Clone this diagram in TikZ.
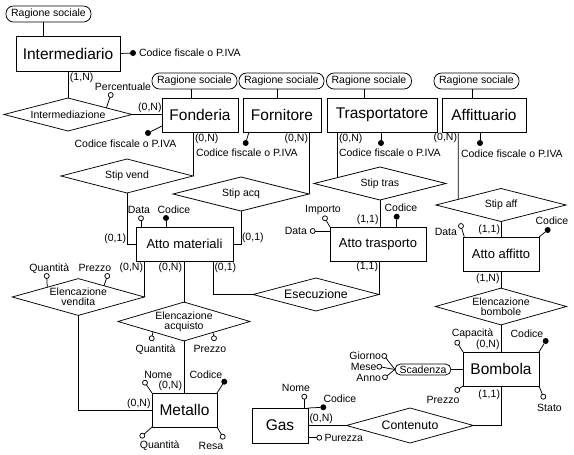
\documentclass[tikz,border=0pt]{standalone}
\usepackage{fontspec}
\setmainfont{Liberation Sans}
\usetikzlibrary{shapes.geometric,calc}
\tikzset{
 ent/.style={draw, rectangle, inner sep=0, outer sep=0, font=\fontsize{15.5}{17}\selectfont},
 atto/.style={ent, font=\fontsize{13}{15}\selectfont},
 rel/.style={draw, diamond, aspect=3, inner sep=0, outer sep=0, align=center, font=\fontsize{10.5}{10}\selectfont},
 relbig/.style={rel, font=\fontsize{12.3}{14}\selectfont},
 pill/.style={draw, rectangle, rounded corners=7.5pt, minimum width=85pt, minimum height=16pt, inner sep=0, outer sep=0, font=\fontsize{10.5}{12}\selectfont},
 att/.style={circle, draw, fill=white, inner sep=0, outer sep=0, minimum size=5pt},
 key/.style={circle, fill=black, inner sep=0, outer sep=0, minimum size=6pt},
 lbl/.style={inner sep=0, outer sep=0, font=\fontsize{10.5}{12}\selectfont}
}
\begin{document}
\begin{tikzpicture}[x=1pt,y=-1pt,line width=0.75pt]
\useasboundingbox (0,0) rectangle (574,455);
% entities
\node[ent, minimum width=104pt, minimum height=35pt] (inter) at (68,53.5) {Intermediario};
\node[ent, minimum width=76pt, minimum height=34pt] (fond) at (200,115) {Fonderia};
\node[ent, minimum width=78pt, minimum height=34pt] (forn) at (282,115) {Fornitore};
\node[ent, minimum width=110pt, minimum height=34pt] (trasp) at (382,115) {Trasportatore};
\node[ent, minimum width=84pt, minimum height=34pt] (affit) at (484,115) {Affittuario};
\node[atto, minimum width=97pt, minimum height=34pt] (attomat) at (184.5,244) {Atto materiali};
\node[atto, minimum width=96pt, minimum height=34pt] (attotr) at (378,244) {Atto trasporto};
\node[atto, minimum width=76pt, minimum height=34pt] (attoaff) at (501,254) {Atto affitto};
\node[ent, minimum width=65pt, minimum height=34pt] (metallo) at (184.5,410) {Metallo};
\node[ent, minimum width=56pt, minimum height=35pt] (gas) at (280,425.5) {Gas};
\node[ent, minimum width=76pt, minimum height=34pt] (bombola) at (501,369) {Bombola};
% relationships
\node[rel, minimum width=128pt, minimum height=33pt] (intermed) at (68,114.5) {Intermediazione};
\node[rel, minimum width=132pt, minimum height=34pt] (stipvend) at (127,176) {Stip vend};
\node[rel, minimum width=136pt, minimum height=34pt] (stipacq) at (241,194) {Stip acq};
\node[rel, minimum width=132pt, minimum height=33pt] (stiptras) at (380,183.5) {Stip tras};
\node[rel, minimum width=130pt, minimum height=33pt] (stipaff) at (501,205) {Stip aff};
\node[relbig, minimum width=126pt, minimum height=33pt] (esec) at (316,294.5) {Esecuzione};
\node[rel, minimum width=132pt, minimum height=34pt] (elvend) at (78.3,297) {Elencazione\\vendita};
\node[rel, minimum width=132pt, minimum height=33pt] (elacq) at (184,321.5) {Elencazione\\acquisto};
\node[rel, minimum width=131pt, minimum height=33pt] (elbomb) at (501,306.5) {Elencazione\\bombole};
\node[relbig, minimum width=127pt, minimum height=35pt] (conten) at (410,425.5) {Contenuto};
% pills
\node[pill] (rs0) at (48.5,14) {Ragione sociale};
\node[pill] (rs1) at (194.5,81) {Ragione sociale};
\node[pill] (rs2) at (281.5,81) {Ragione sociale};
\node[pill] (rs3) at (369,81) {Ragione sociale};
\node[pill] (rs4) at (476.5,81) {Ragione sociale};
\node[pill, minimum width=56pt, minimum height=11pt, rounded corners=5.5pt, font=\fontsize{10.5}{11}\selectfont] (scad) at (423,369.5) {Scadenza};
% pill connectors
\draw ([xshift=-5.5pt]rs0.south) -- ([xshift=-5.5pt]rs0.south |- inter.north);
\draw ([xshift=-3.5pt]rs1.south) -- ([xshift=-3.5pt]rs1.south |- fond.north);
\draw ([xshift=-4.5pt]rs2.south) -- ([xshift=-4.5pt]rs2.south |- forn.north);
\draw ([xshift=-5pt]rs3.south) -- ([xshift=-5pt]rs3.south |- trasp.north);
\draw ([xshift=-4.5pt]rs4.south) -- ([xshift=-4.5pt]rs4.south |- affit.north);
% main connectors
\draw (inter.south) -- (intermed.north);
\draw (intermed.east) -- (intermed.east -| fond.west);
\draw (stipvend.east) -- (stipvend.east |- fond.south);
\draw (stipacq.east) -- (stipacq.east |- forn.south);
\draw ([xshift=10.5pt]trasp.south west) -- (intersection cs: first line={([xshift=10.5pt]trasp.south west)--([xshift=10.5pt,yshift=-100pt]trasp.south west)}, second line={(stiptras.west)--(stiptras.north)});
\draw ([xshift=16.3pt]affit.south west) -- (intersection cs: first line={([xshift=16.3pt]affit.south west)--([xshift=16.3pt,yshift=-100pt]affit.south west)}, second line={(stipaff.west)--(stipaff.north)});
\draw (stipvend.south) |- (attomat.west);
\draw (stipacq.south) |- (attomat.east);
\draw ([xshift=77.3pt]attomat.south west) |- (esec.west);
\draw (esec.east) -- (esec.east |- attotr.south);
\draw (stiptras.south) -- (stiptras.south |- attotr.north);
\draw (elvend.east) -- (elvend.east |- attomat.south);
\draw (elacq.north) -- (elacq.north |- attomat.south);
\draw (elvend.south) |- (metallo.west);
\draw (elacq.south) -- (elacq.south |- metallo.north);
\draw (stipaff.south) -- (attoaff.north);
\draw (attoaff.south) -- (elbomb.north);
\draw (elbomb.south) -- (bombola.north);
\draw (conten.east) -| (bombola.south);
\draw (conten.west) -- (conten.west -| gas.east);
\draw (scad.east) -- (scad.east -| bombola.west);
% key attributes
\node[key] (k0) at (133,53) {};
\node[key] (k1) at (148,133) {};
\node[key] (k2) at (245.7,143) {};
\node[key] (k3) at (381,143) {};
\node[key] (k4) at (480,143) {};
\node[key] (k5) at (166,218) {};
\node[key] (k6) at (224.3,381.7) {};
\node[key] (k7) at (396.7,216.7) {};
\node[key] (k8) at (547.7,230) {};
\node[key] (k9) at (545.7,341) {};
\node[key] (k10) at (323.3,407.3) {};
\draw (inter.east) -- (k0);
\draw ([yshift=6pt]fond.south west) -- (k1);
\draw ([xshift=6pt]forn.south west) -- (k2);
\draw (k3 |- trasp.south) -- (k3);
\draw (k4 |- affit.south) -- (k4);
\draw (k5 |- attomat.north) -- (k5);
\draw (metallo.north east) -- (k6);
\draw (k7 |- attotr.north) -- (k7);
\draw (attoaff.north east) -- (k8);
\draw (bombola.north east) -- (k9);
\draw (gas.north east) -- (k10);
% simple attributes
\node[att] (a0) at (110.7,95) {};
\node[att] (a1) at (141,218.3) {};
\node[att] (a2) at (46.7,276) {};
\node[att] (a3) at (107.3,276) {};
\node[att] (a4) at (151.7,338.3) {};
\node[att] (a5) at (214,338.3) {};
\node[att] (a6) at (145,382.7) {};
\node[att] (a7) at (142.3,435.7) {};
\node[att] (a8) at (222.7,436.7) {};
\node[att] (a9) at (325,218.3) {};
\node[att] (a10) at (312.7,231) {};
\node[att] (a11) at (461,226) {};
\node[att] (a12) at (457.3,342.7) {};
\node[att] (a13) at (457.3,390) {};
\node[att] (a14) at (543.3,396.7) {};
\node[att] (a15) at (384.3,356) {};
\node[att] (a16) at (379.3,366.7) {};
\node[att] (a17) at (385,377.3) {};
\node[att] (a18) at (304.3,396.7) {};
\node[att] (a19) at (319.3,437.7) {};
\draw ($(intermed.north)!0.6!(intermed.east)$) -- (a0);
\draw (a1 |- attomat.north) -- (a1);
\draw ($(elvend.west)!0.53!(elvend.north)$) -- (a2);
\draw ($(elvend.north)!0.39!(elvend.east)$) -- (a3);
\draw ($(elacq.west)!0.53!(elacq.south)$) -- (a4);
\draw ($(elacq.south)!0.44!(elacq.east)$) -- (a5);
\draw (metallo.north west) -- (a6);
\draw (metallo.south west) -- (a7);
\draw (metallo.south east) -- (a8);
\draw (attotr.north west) -- (a9);
\draw (a10 -| attotr.west) -- (a10);
\draw ([xshift=1.3pt]attoaff.north west) -- (a11);
\draw (bombola.north west) -- (a12);
\draw (bombola.south west) -- (a13);
\draw (bombola.south east) -- (a14);
\draw (scad.west) -- (a15);
\draw (scad.west) -- (a16);
\draw (scad.west) -- (a17);
\draw (a18 |- gas.north) -- (a18);
\draw (a19 -| gas.east) -- (a19);
% labels
\node[lbl, anchor=west] (l1) at (139,53) {Codice fiscale o P.IVA};
\node[lbl, anchor=west] (l2) at (70,77.5) {(1,N)};
\node[lbl] (l3) at (123,87) {Percentuale};
\node[lbl, anchor=east] (l4) at (161.5,107.5) {(0,N)};
\node[lbl] (l5) at (125.5,144) {Codice fiscale o P.IVA};
\node[lbl, anchor=west] (l6) at (195,139) {(0,N)};
\node[lbl, anchor=west] (l7) at (196,153) {Codice fiscale o P.IVA};
\node[lbl, anchor=east] (l8) at (308,139) {(0,N)};
\node[lbl, anchor=west] (l9) at (339,139) {(0,N)};
\node[lbl, anchor=west] (l10) at (339,153) {Codice fiscale o P.IVA};
\node[lbl, anchor=east] (l11) at (457,138) {(0,N)};
\node[lbl, anchor=west] (l12) at (461,154) {Codice fiscale o P.IVA};
\node[lbl, anchor=east] (l13) at (126,239) {(0,1)};
\node[lbl] (l14) at (139,210) {Data};
\node[lbl] (l15) at (174,210) {Codice};
\node[lbl, anchor=west] (l16) at (242,238) {(0,1)};
\node[lbl, anchor=east] (l17) at (143,267.5) {(0,N)};
\node[lbl, anchor=east] (l18) at (182,267.5) {(0,N)};
\node[lbl, anchor=west] (l19) at (214.5,267.5) {(0,1)};
\node[lbl] (l20) at (49.3,268.3) {Quantità};
\node[lbl] (l21) at (95,268.3) {Prezzo};
\node[lbl] (l22) at (155.5,349.3) {Quantità};
\node[lbl] (l23) at (210,349.3) {Prezzo};
\node[lbl] (l24) at (158.3,375) {Nome};
\node[lbl] (l25) at (206,375) {Codice};
\node[lbl, anchor=east] (l26) at (182,386) {(0,N)};
\node[lbl, anchor=east] (l27) at (150.5,403.3) {(0,N)};
\node[lbl] (l28) at (159.7,446) {Quantità};
\node[lbl] (l29) at (211,446) {Resa};
\node[lbl] (l30) at (323,210) {Importo};
\node[lbl] (l31) at (401,208) {Codice};
\node[lbl, anchor=east] (l32) at (378.5,220) {(1,1)};
\node[lbl, anchor=east] (l33) at (307,231) {Data};
\node[lbl, anchor=east] (l34) at (378,267) {(1,1)};
\node[lbl, anchor=east] (l35) at (457,232) {Data};
\node[lbl, anchor=east] (l36) at (500,230) {(1,1)};
\node[lbl] (l37) at (552,221) {Codice};
\node[lbl, anchor=east] (l38) at (499.5,278.3) {(1,N)};
\node[lbl] (l39) at (472.5,334) {Capacità};
\node[lbl] (l40) at (527,334) {Codice};
\node[lbl, anchor=east] (l41) at (499.5,344.3) {(0,N)};
\node[lbl] (l42) at (443,400) {Prezzo};
\node[lbl] (l43) at (549.5,408.3) {Stato};
\node[lbl, anchor=east] (l44) at (500,394.3) {(1,1)};
\node[lbl, anchor=east] (l45) at (381,356) {Giorno};
\node[lbl, anchor=east] (l46) at (376.5,366.5) {Mese};
\node[lbl, anchor=east] (l47) at (381,378) {Anno};
\node[lbl] (l48) at (296,388.3) {Nome};
\node[lbl, anchor=west] (l49) at (323.5,399) {Codice};
\node[lbl, anchor=west] (l50) at (309.5,419) {(0,N)};
\node[lbl, anchor=west] (l51) at (324.5,438) {Purezza};
\end{tikzpicture}
\end{document}
